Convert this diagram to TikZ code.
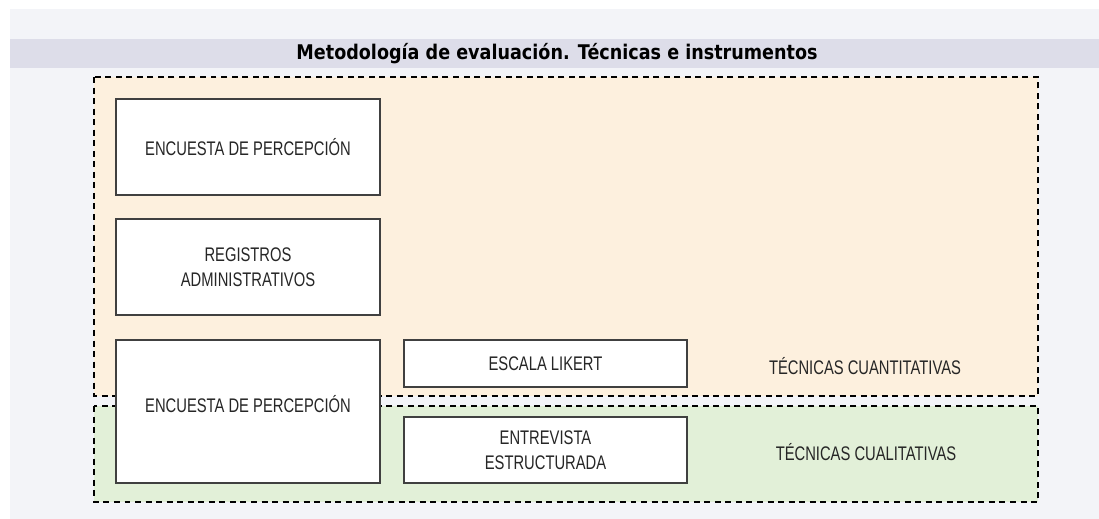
\documentclass[tikz,border=0pt]{standalone}
\usepackage{fontspec}
\setmainfont{Liberation Sans}
\newfontfamily\boxfont[FakeStretch=0.75]{Liberation Sans}
\newfontfamily\titlefont[FakeStretch=0.87]{DejaVu Sans}

\definecolor{bggray}{HTML}{F3F4F8}
\definecolor{bandgray}{HTML}{DDDDE9}
\definecolor{cuantfill}{HTML}{FDF0DE}
\definecolor{cualfill}{HTML}{E2F0D8}
\definecolor{boxline}{HTML}{404040}

\begin{document}
\begin{tikzpicture}[x=0.02cm, y=-0.02cm,
    zona/.style={draw=black, line width=1.1pt, dash pattern=on 3.4pt off 2.6pt},
    caja/.style={draw=boxline, fill=white, line width=0.9pt, inner sep=0pt, align=center,
                 font=\boxfont\fontsize{11.2}{14.5}\selectfont, text=black!85},
    rotulo/.style={font=\boxfont\fontsize{11.2}{14.5}\selectfont, text=black!85}]
        \useasboundingbox (0,0) rectangle (1099,519);
        \fill[white] (0,0) rectangle (1099,519);
        \fill[bggray] (10,9) rectangle (1099,519);
        \fill[bandgray] (10,39) rectangle (1099,68);
        \node[font=\titlefont\bfseries\fontsize{11.5}{13}\selectfont] (titulo) at (557,54) {Metodología de evaluación. Técnicas e instrumentos};
        % zonas
        \draw[zona, fill=cuantfill] (94,77) rectangle (1038,396);
        \draw[zona, fill=cualfill] (94,406) rectangle (1038,502);
        % cajas
        \node[caja, minimum width=5.28cm, minimum height=1.92cm] (enc1) at (248,147) {ENCUESTA DE PERCEPCIÓN};
        \node[caja, minimum width=5.28cm, minimum height=1.92cm] (reg) at (248,267) {REGISTROS\\ADMINISTRATIVOS};
        \node[caja, minimum width=5.28cm, minimum height=2.86cm] (enc2) at (248,411.5) {};
        \node[rotulo] (enc2txt) at (248,404) {ENCUESTA DE PERCEPCIÓN};
        \node[caja, minimum width=5.66cm, minimum height=0.94cm] (likert) at (545.5,363.5) {ESCALA LIKERT};
        \node[caja, minimum width=5.66cm, minimum height=1.32cm] (entrev) at (545.5,450) {ENTREVISTA\\ESTRUCTURADA};
        \node[rotulo] (cuant) at (865,366) {TÉCNICAS CUANTITATIVAS};
        \node[rotulo] (cual) at (866,452) {TÉCNICAS CUALITATIVAS};
    \end{tikzpicture}
\end{document}
